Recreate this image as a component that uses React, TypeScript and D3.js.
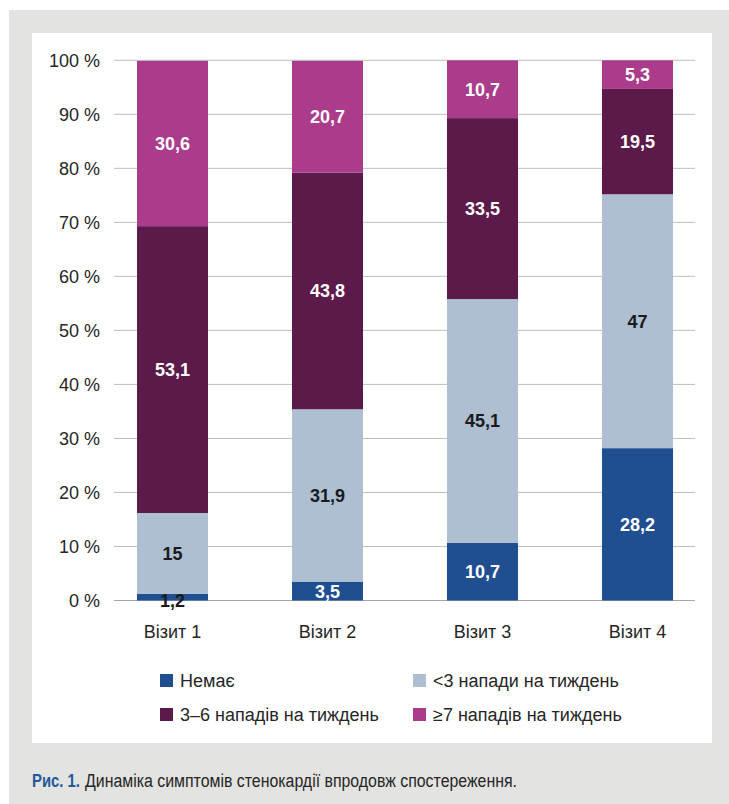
import React from "react";
import * as d3 from "d3";

const categories = ["Візит 1", "Візит 2", "Візит 3", "Візит 4"];
const seriesNames = ["Немає", "<3 напади на тиждень", "3–6 нападів на тиждень", "≥7 нападів на тиждень"];
const none = [1.2, 3.5, 10.7, 28.2];
const lessThan3 = [15, 31.9, 45.1, 47];
const from3to6 = [53.1, 43.8, 33.5, 19.5];
const atLeast7 = [30.6, 20.7, 10.7, 5.3];
const yTicks = [0, 10, 20, 30, 40, 50, 60, 70, 80, 90, 100];
const captionLabel = "Рис. 1.";
const captionText = "Динаміка симптомів стенокардії впродовж спостереження.";

const colors = ["#1f4e91", "#adbfd1", "#5c1a4a", "#ab3c8c"];
const labelDark = "#1a1a1a";

export default function App() {
  const W = 729, H = 804;
  const font = "'Liberation Sans', Arial, Helvetica, sans-serif";
  const narrow = "'Liberation Sans Narrow', 'Arial Narrow', 'Liberation Sans', sans-serif";
  const x = d3.scaleBand().domain(categories).range([95, 715]).paddingInner(0.542).paddingOuter(0.271);
  const y = d3.scaleLinear().domain([0, 100]).range([600.5, 60.3]);
  const rows = categories.map((c, i) => ({ cat: c, s0: none[i], s1: lessThan3[i], s2: from3to6[i], s3: atLeast7[i] }));
  const stack = d3.stack<any>().keys(["s0", "s1", "s2", "s3"]);
  const layers = stack(rows);
  const fmt = (v: number) => String(v).replace(".", ",");
  const gridX0 = 114, gridX1 = 695;

  return (
    <svg width={W} height={H} style={{ position: "absolute", left: 0, top: 0 }} fontFamily={font}>
      <rect x={9} y={10} width={W - 9} height={H - 10} fill="#e3e3e1" />
      <rect x={32} y={33} width={680} height={710} fill="#ffffff" />
      {yTicks.map((t) => (
        <g key={t}>
          <line x1={gridX0} x2={gridX1} y1={y(t)} y2={y(t)} stroke={t === 0 ? "#a6a6a6" : "#bdbdbd"} strokeWidth={1} />
          <text x={100} y={y(t)} dy="0.35em" textAnchor="end" fontSize={18} fill="#262626">{t} %</text>
        </g>
      ))}
      {layers.map((layer, li) => (
        <g key={li}>
          {layer.map((d, i) => (
            <rect key={i} x={x(categories[i])} width={x.bandwidth()} y={y(d[1])} height={y(d[0]) - y(d[1])} fill={colors[li]} />
          ))}
        </g>
      ))}
      {layers.map((layer, li) => (
        <g key={"l" + li}>
          {layer.map((d, i) => {
            const val = [none, lessThan3, from3to6, atLeast7][li][i];
            const small = y(d[0]) - y(d[1]) < 12;
            const dark = li === 1 || small;
            return (
              <text key={i} x={(x(categories[i]) as number) + x.bandwidth() / 2} y={y((d[0] + d[1]) / 2) + (small ? 3 : 0)} dy="0.36em" textAnchor="middle" fontSize={18} fontWeight="bold" fill={dark ? labelDark : "#ffffff"}>
                {fmt(val)}
              </text>
            );
          })}
        </g>
      ))}
      {categories.map((c) => (
        <text key={c} x={(x(c) as number) + x.bandwidth() / 2} y={638} textAnchor="middle" fontSize={18} fill="#262626">{c}</text>
      ))}
      {seriesNames.map((n, i) => {
        const col = i % 2, row = Math.floor(i / 2);
        const lx = col === 0 ? 160 : 413;
        const ly = row === 0 ? 674 : 708;
        return (
          <g key={n}>
            <rect x={lx} y={ly} width={13} height={13} fill={colors[i]} />
            <text x={lx + 20} y={ly + 13} fontSize={18} fill="#262626">{n}</text>
          </g>
        );
      })}
      <text x={32} y={787} fontSize={18} fontWeight="bold" fill="#1f5a9a" fontFamily={narrow} textLength={48} lengthAdjust="spacingAndGlyphs">{captionLabel}</text>
      <text x={85} y={787} fontSize={18} fill="#262626" fontFamily={narrow} textLength={432} lengthAdjust="spacingAndGlyphs">{captionText}</text>
    </svg>
  );
}
